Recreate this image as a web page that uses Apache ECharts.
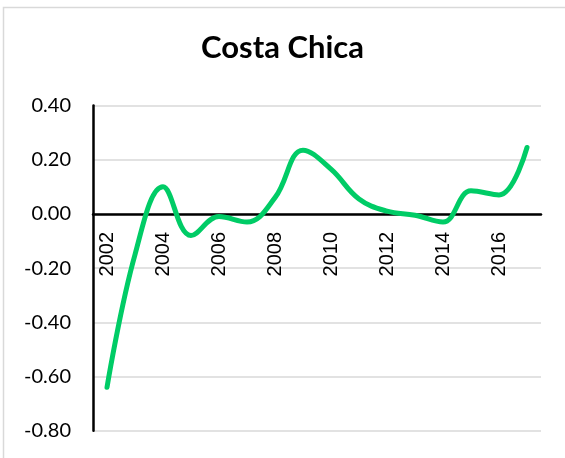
<!DOCTYPE html>
<html>
<head>
<meta charset="utf-8">
<script src="https://cdn.jsdelivr.net/npm/echarts@6/dist/echarts.min.js"></script>
<style>
  html, body { margin: 0; padding: 0; background: #fff; }
  #chart { width: 565px; height: 458px; }
</style>
</head>
<body>
<div id="chart"></div>
<script>
const titleText = 'Costa Chica';
const years = ['2002','2003','2004','2005','2006','2007','2008','2009','2010','2011','2012','2013','2014','2015','2016','2017'];
const values = [-0.64, -0.15, 0.10, -0.08, -0.01, -0.03, 0.06, 0.235, 0.165, 0.055, 0.01, -0.005, -0.03, 0.085, 0.07, 0.245];
const yMin = -0.8, yMax = 0.4, yStep = 0.2;

const W = 565, H = 458;
const gridTop = 105.5, gridBottom = 27.3;
const plotH = H - gridTop - gridBottom;
const zeroOffset = -plotH * (0 - yMin) / (yMax - yMin);

const chart = echarts.init(document.getElementById('chart'), null, { renderer: 'canvas' });
chart.setOption({
  animation: false,
  backgroundColor: '#ffffff',
  graphic: [{
    type: 'rect',
    silent: true,
    shape: { x: 3.5, y: 7.5, width: 600, height: 500 },
    style: { fill: 'none', stroke: '#d9d9d9', lineWidth: 1.5 }
  }],
  title: {
    text: titleText,
    left: 'center',
    top: 27,
    textStyle: { fontFamily: 'Lato', fontWeight: 'bold', fontSize: 31, color: '#000' }
  },
  grid: { left: 93, right: 24, top: gridTop, bottom: gridBottom, containLabel: false, outerBoundsMode: 'none' },
  xAxis: {
    type: 'category',
    data: years,
    boundaryGap: true,
    position: 'bottom',
    offset: zeroOffset,
    axisLine: { onZero: false, lineStyle: { color: '#000', width: 2.5 } },
    axisTick: { show: false },
    axisLabel: {
      interval: 1,
      rotate: 90,
      margin: 18,
      hideOverlap: false,
      fontFamily: 'Liberation Sans',
      fontSize: 20,
      color: '#000'
    },
    splitLine: { show: false }
  },
  yAxis: {
    type: 'value',
    min: yMin,
    max: yMax,
    interval: yStep,
    axisLine: { show: true, onZero: false, lineStyle: { color: '#000', width: 2.5 } },
    axisTick: { show: false },
    axisLabel: {
      margin: 22,
      fontFamily: 'Lato',
      fontSize: 20,
      color: '#000',
      formatter: v => v.toFixed(2)
    },
    splitLine: { show: true, lineStyle: { color: '#d9d9d9', width: 1.5 } }
  },
  series: [{
    type: 'line',
    data: values,
    smooth: 0.4,
    symbol: 'none',
    lineStyle: { color: '#00cc66', width: 5, cap: 'round' },
    z: 3
  }]
});
</script>
</body>
</html>
